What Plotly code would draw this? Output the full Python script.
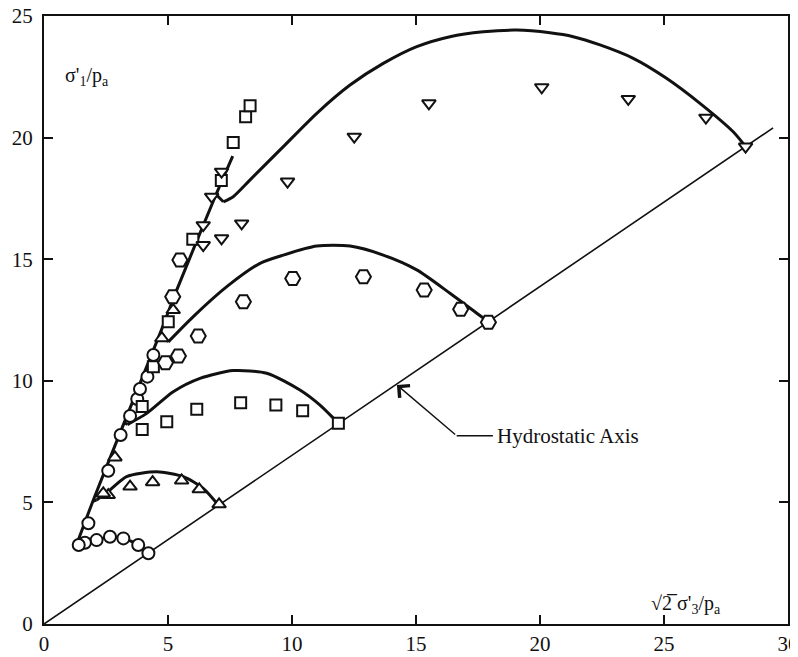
import plotly.graph_objects as go

# ---- data ----
# Hydrostatic axis
hydro_x = [0, 29.4]
hydro_y = [0, 20.4]

# Failure envelope (thick line)
env_x = [1.29, 1.99, 3.06, 4.68, 5.35, 6.9, 7.61]
env_y = [3.2, 5.1, 7.84, 11.95, 13.73, 17.57, 19.24]

# Short links between the envelope and the kink of each model path
join_x = [2.0, 2.12, None, 3.22, 3.36, None, 4.68, 5.01, None, 6.96, 7.23]
join_y = [5.05, 5.1, None, 8.3, 8.2, None, 12.02, 11.6, None, 17.64, 17.36]

# Model stress paths (from the kink to the hydrostatic axis)
circ_curve_x = [1.3, 1.65, 2.12, 2.66, 3.2, 3.8, 4.21]
circ_curve_y = [3.2, 3.34, 3.45, 3.59, 3.52, 3.25, 2.91]

tri_curve_x = [2.12, 2.66, 3.33, 4.54, 5.62, 6.42, 7.03]
tri_curve_y = [5.1, 5.51, 6.06, 6.26, 6.06, 5.58, 4.89]

sq_curve_x = [3.36, 4.14, 5.21, 6.29, 7.63, 8.98, 10.32, 11.13, 11.67, 11.87]
sq_curve_y = [8.2, 8.66, 9.55, 10.1, 10.42, 10.31, 9.62, 9.0, 8.46, 8.25]

hex_curve_x = [5.01, 6.02, 7.37, 8.71, 9.65, 11.0, 12.34, 13.68, 15.03, 16.37, 17.45, 17.92]
hex_curve_y = [11.6, 12.64, 13.87, 14.83, 15.17, 15.54, 15.54, 15.17, 14.56, 13.6, 12.78, 12.43]

tdn_curve_x = [7.23, 7.63, 8.31, 9.65, 11.0, 12.34, 13.68, 15.03, 16.37, 17.71, 19.06,
               20.4, 21.34, 22.42, 23.76, 25.1, 26.45, 27.79, 28.29]
tdn_curve_y = [17.36, 17.57, 18.26, 19.63, 21.0, 22.16, 23.05, 23.74, 24.15, 24.35, 24.42,
               24.31, 24.15, 23.81, 23.26, 22.44, 21.41, 20.24, 19.63]

# Test data points
circ_x = [4.21, 3.8, 3.2, 2.66, 2.12, 1.65, 1.4, 1.79, 2.59, 3.09, 3.47, 3.76, 3.87, 4.17, 4.41]
circ_y = [2.91, 3.25, 3.52, 3.59, 3.45, 3.34, 3.25, 4.14, 6.3, 7.77, 8.55, 9.25, 9.66, 10.17, 11.06]

tri_x = [7.06, 6.26, 5.55, 4.38, 3.47, 2.59, 2.39, 2.86, 4.75, 5.21]
tri_y = [4.92, 5.54, 5.9, 5.83, 5.65, 5.3, 5.37, 6.85, 11.75, 12.91]

sq_x = [11.87, 10.43, 9.35, 7.93, 6.16, 4.95, 3.96, 3.96, 4.41, 5.01, 6.0, 7.15, 7.63, 8.13, 8.31]
sq_y = [8.25, 8.77, 9.0, 9.1, 8.83, 8.32, 8.0, 8.94, 10.58, 12.43, 15.82, 18.24, 19.8, 20.86, 21.31]

hex_x = [17.92, 16.8, 15.33, 12.88, 10.03, 8.04, 6.22, 5.42, 4.9, 5.19, 5.48]
hex_y = [12.41, 12.94, 13.73, 14.28, 14.21, 13.25, 11.84, 11.02, 10.74, 13.46, 14.97]

tdn_x = [28.29, 26.69, 23.56, 20.07, 15.52, 12.51, 9.82, 7.97, 7.16, 6.42, 6.42, 6.76, 7.16]
tdn_y = [19.63, 20.82, 21.59, 22.07, 21.41, 20.04, 18.19, 16.47, 15.86, 15.58, 16.4, 17.57, 18.6]

x_ticks = [0, 5, 10, 15, 20, 25, 30]
y_ticks = [0, 5, 10, 15, 20, 25]

FONT = "Liberation Serif"
BLACK = "#111111"

fig = go.Figure()

fig.add_trace(go.Scatter(x=hydro_x, y=hydro_y, mode="lines",
                         line=dict(color=BLACK, width=1.6), hoverinfo="skip"))
fig.add_trace(go.Scatter(x=env_x, y=env_y, mode="lines",
                         line=dict(color=BLACK, width=3, shape="spline", smoothing=0.6)))
fig.add_trace(go.Scatter(x=join_x, y=join_y, mode="lines",
                         line=dict(color=BLACK, width=3)))
for cx, cy in [(circ_curve_x, circ_curve_y), (tri_curve_x, tri_curve_y),
               (sq_curve_x, sq_curve_y), (hex_curve_x, hex_curve_y),
               (tdn_curve_x, tdn_curve_y)]:
    fig.add_trace(go.Scatter(x=cx, y=cy, mode="lines",
                             line=dict(color=BLACK, width=3, shape="spline", smoothing=0.7)))

def pts(x, y, symbol, size):
    fig.add_trace(go.Scatter(x=x, y=y, mode="markers",
                             marker=dict(symbol=symbol, size=size, color="white",
                                         line=dict(color=BLACK, width=2))))

pts(circ_x, circ_y, "circle", 12)
pts(tri_x, tri_y, "triangle-up", 12)
pts(sq_x, sq_y, "square", 11)
pts(hex_x, hex_y, "hexagon2", 15)
pts(tdn_x, tdn_y, "triangle-down", 12)

# Hydrostatic axis pointer
fig.add_annotation(x=14.23, y=9.83, ax=16.64, ay=7.74, axref="x", ayref="y",
                   xref="x", yref="y", text="", showarrow=True,
                   arrowhead=4, arrowsize=2.2, arrowwidth=1.4, arrowcolor=BLACK)
fig.add_shape(type="line", x0=16.64, y0=7.74, x1=18.1, y1=7.74,
              line=dict(color=BLACK, width=1.4))
fig.add_annotation(x=18.2, y=7.74, xref="x", yref="y", text="Hydrostatic Axis",
                   showarrow=False, xanchor="left", yanchor="middle",
                   font=dict(family=FONT, size=21, color=BLACK))

# Axis titles placed inside the frame
fig.add_annotation(x=0.75, y=22.5, xref="x", yref="y",
                   text="σ'<sub>1</sub>/p<sub>a</sub>",
                   showarrow=False, xanchor="left", yanchor="middle",
                   font=dict(family=FONT, size=20, color=BLACK))
fig.add_annotation(x=24.4, y=0.8, xref="x", yref="y",
                   text="√2\u0305 σ'<sub>3</sub>/p<sub>a</sub>",
                   showarrow=False, xanchor="left", yanchor="middle",
                   font=dict(family=FONT, size=20, color=BLACK))

axis_common = dict(showgrid=False, zeroline=False, showline=True, linecolor=BLACK,
                   linewidth=2, mirror="ticks", ticks="inside", ticklen=9,
                   tickwidth=2, tickcolor=BLACK, automargin=False,
                   ticklabeloverflow="allow",
                   tickfont=dict(family=FONT, size=21, color=BLACK))

# The page body adds an 8px offset, so the figure is 8px smaller and its
# top/left margins 8px smaller to land the frame where the reference has it.
fig.update_layout(
    width=790, height=649,
    margin=dict(l=36, r=10, t=8, b=33),
    paper_bgcolor="white", plot_bgcolor="white",
    showlegend=False,
    xaxis=dict(range=[0, 30], tickvals=x_ticks, ticktext=[str(v) for v in x_ticks],
               ticklabelstandoff=0, **axis_common),
    yaxis=dict(range=[0, 25], tickvals=y_ticks, ticktext=[str(v) for v in y_ticks],
               ticklabelstandoff=5, **axis_common),
)

fig.write_html("out.html")
